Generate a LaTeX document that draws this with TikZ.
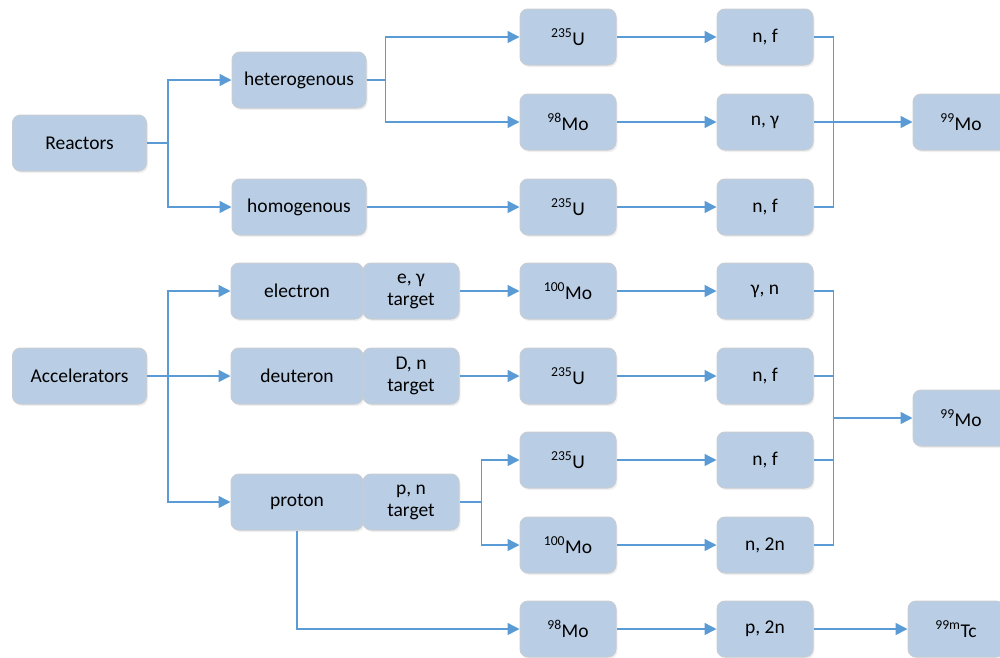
\documentclass[tikz,border=0pt]{standalone}
\usepackage{fontspec}
\setmainfont{Carlito}
\usetikzlibrary{arrows.meta,shadows,calc}
\definecolor{boxfill}{HTML}{B9CDE5}
\definecolor{boxline}{HTML}{C8CDD3}
\definecolor{conncol}{HTML}{5B9BD5}
\tikzset{
  box/.style={draw=boxline, fill=boxfill, rounded corners=8pt, line width=1pt,
    minimum width=96pt, minimum height=56pt, inner sep=0pt, align=center,
    font=\fontsize{19.5}{22}\selectfont,
    drop shadow={opacity=0.12, shadow xshift=1.5pt, shadow yshift=-2pt}},
  widebox/.style={box, minimum width=134pt},
  midbox/.style={box, minimum width=132pt},
  tgtbox/.style={box, minimum width=96pt},
  link/.style={draw=conncol, line width=1.5pt},
  conn/.style={link, -{Triangle[length=12pt,width=12pt]}},
}
\begin{document}
\begin{tikzpicture}[x=1pt,y=-1pt]
\useasboundingbox (0,0) rectangle (1000,657);
% Reactors part
\node[widebox] (R) at (79.5,143) {Reactors};
\node[widebox] (het) at (299,80) {heterogenous};
\node[widebox] (hom) at (299,207) {homogenous};
\node[box] (u1) at (568,37) {\textsuperscript{235}U};
\node[box] (mo98a) at (568,122) {\textsuperscript{98}Mo};
\node[box] (u2) at (568,207) {\textsuperscript{235}U};
\node[box] (nf1) at (765,37) {n, f};
\node[box] (ng) at (765,122) {n, γ};
\node[box] (nf2) at (765,207) {n, f};
\node[box] (mo99a) at (961,122) {\textsuperscript{99}Mo};
% Accelerators part
\node[widebox] (A) at (79.5,376) {Accelerators};
\node[midbox] (el) at (297,291) {electron};
\node[midbox] (de) at (297,376) {deuteron};
\node[midbox] (pr) at (297,502) {proton};
\node[tgtbox] (t1) at (411,291) {e, γ\\target};
\node[tgtbox] (t2) at (411,376) {D, n\\target};
\node[tgtbox] (t3) at (411,502) {p, n\\target};
\node[box] (mo100a) at (568,291) {\textsuperscript{100}Mo};
\node[box] (u3) at (568,376) {\textsuperscript{235}U};
\node[box] (u4) at (568,460) {\textsuperscript{235}U};
\node[box] (mo100b) at (568,545) {\textsuperscript{100}Mo};
\node[box] (mo98b) at (568,629) {\textsuperscript{98}Mo};
\node[box] (gn) at (765,291) {γ, n};
\node[box] (nf3) at (765,376) {n, f};
\node[box] (nf4) at (765,460) {n, f};
\node[box] (n2n) at (765,545) {n, 2n};
\node[box] (p2n) at (765,629) {p, 2n};
\node[box] (mo99b) at (961,418) {\textsuperscript{99}Mo};
\node[box] (tc) at (956,629) {\textsuperscript{99m}Tc};
% connectors: reactors
\draw[conn] (R.east) -- ++(21,0) |- (het.west);
\draw[conn] (R.east) -- ++(21,0) |- (hom.west);
\draw[conn] (het.east) -- ++(19,0) |- (u1.west);
\draw[conn] (het.east) -- ++(19,0) |- (mo98a.west);
\draw[conn] (hom.east) -- (u2.west);
\draw[conn] (u1.east) -- (nf1.west);
\draw[conn] (mo98a.east) -- (ng.west);
\draw[conn] (u2.east) -- (nf2.west);
\draw[link] (nf1.east) -- ++(20,0) |- (nf2.east);
\draw[conn] (ng.east) -- (mo99a.west);
% connectors: accelerators
\draw[conn] (A.east) -- ++(21,0) |- (el.west);
\draw[conn] (A.east) -- (de.west);
\draw[conn] (A.east) -- ++(21,0) |- (pr.west);
\draw[conn] (t1.east) -- (mo100a.west);
\draw[conn] (t2.east) -- (u3.west);
\draw[conn] (t3.east) -- ++(22,0) |- (u4.west);
\draw[conn] (t3.east) -- ++(22,0) |- (mo100b.west);
\draw[conn] (pr.south) |- (mo98b.west);
\draw[conn] (mo100a.east) -- (gn.west);
\draw[conn] (u3.east) -- (nf3.west);
\draw[conn] (u4.east) -- (nf4.west);
\draw[conn] (mo100b.east) -- (n2n.west);
\draw[conn] (mo98b.east) -- (p2n.west);
\coordinate (jb) at ($(gn.east)+(20,0)$);
\draw[link] (gn.east) -- (jb) |- (n2n.east);
\draw[link] (nf3.east) -- (nf3.east -| jb);
\draw[link] (nf4.east) -- (nf4.east -| jb);
\draw[conn] (jb |- mo99b.west) -- (mo99b.west);
\draw[conn] (p2n.east) -- (tc.west);
\end{tikzpicture}
\end{document}
